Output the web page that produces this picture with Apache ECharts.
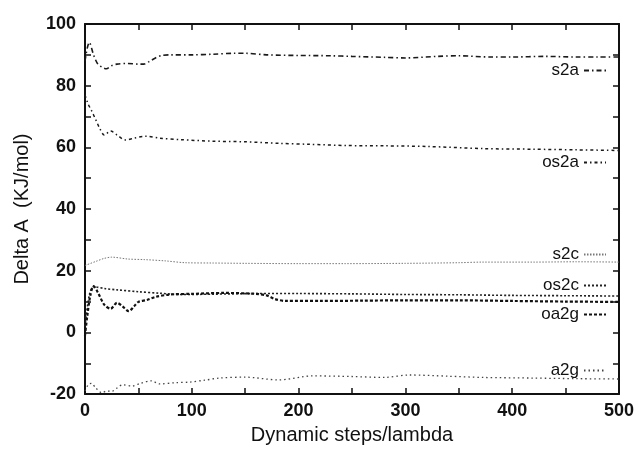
<!DOCTYPE html>
<html>
<head>
<meta charset="utf-8">
<script src="https://cdn.jsdelivr.net/npm/echarts@6/dist/echarts.min.js"></script>
<style>html,body{margin:0;padding:0;background:#fff}#c{width:639px;height:450px}</style>
</head>
<body>
<div id="c"></div>
<script>
const seriesNames = ['s2a','os2a','s2c','os2c','oa2g','a2g'];

const s2aX = [0,2,4,8,12,16,20,25,30,40,50,55,60,66,72,80,100,120,140,150,170,200,230,250,280,300,330,350,380,400,430,460,480,500];
const s2aY = [88,92,94,90,87,86,85.5,86.5,87,87.2,87,87,87.8,89,89.8,90,90,90.2,90.5,90.5,90,89.8,89.7,89.5,89.2,89,89.5,89.7,89.3,89.3,89.5,89.3,89.3,89.3];

const os2aX = [0,3,6,10,14,18,24,30,38,46,57,70,90,120,150,182,210,245,280,320,373,420,460,500];
const os2aY = [77,74,72,69,66,64,65.3,64,62.4,63,63.6,63,62.5,62,61.8,61.3,61,60.6,60.5,60.3,59.6,59.4,59.2,59];

const s2cX = [0,10,18,25,40,56,75,94,120,150,200,244,300,350,372,420,460,500];
const s2cY = [21.7,23,24,24.4,23.8,23.6,23.2,22.6,22.5,22.4,22.3,22.3,22.4,22.6,22.8,22.8,22.9,22.8];

const os2cX = [0,4,8,19,30,50,70,88,120,160,200,250,300,350,400,450,500];
const os2cY = [2,12,14.8,14.2,13.8,13.2,12.7,12.3,12.4,12.6,12.6,12.5,12.3,12.2,12,11.9,11.8];

const oa2gX = [0,2,5,8,12,18,24,30,35,41,46,50,58,66,80,100,130,160,170,178,188,220,260,300,350,400,450,500];
const oa2gY = [-1,5,12,15,13,9,7.7,9.6,8.5,6.9,8.5,9.9,10.5,11.5,12.3,12.5,12.8,12.5,12,10.8,10.2,10.2,10.3,10.4,10.4,10.2,10,9.9];

const a2gX = [0,3,6,10,16,20,25,30,35,44,52,62,70,85,98,112,126,150,181,213,250,280,304,340,373,420,460,500];
const a2gY = [-19,-17,-16.5,-18,-19.6,-19,-19.1,-18,-17,-17.4,-16.5,-15.7,-16.7,-16.3,-16.1,-15.5,-14.8,-14.5,-15.4,-14.1,-14.3,-14.6,-13.8,-14.2,-14.6,-14.8,-15,-15.1];

const xTickLabels = ['0','100','200','300','400','500'];
const yTickLabels = ['-20','0','20','40','60','80','100'];

const seriesX = [s2aX, os2aX, s2cX, os2cX, oa2gX, a2gX];
const seriesY = [s2aY, os2aY, s2cY, os2cY, oa2gY, a2gY];

const styles = [
  {color:'#1a1a1a', width:1.6, type:[5,3,1.5,3]},
  {color:'#1a1a1a', width:1.5, type:[3,3,1.5,3]},
  {color:'#777', width:1, type:[1.5,1.5]},
  {color:'#222', width:1.6, type:[2,2]},
  {color:'#111', width:2.2, type:[3,2]},
  {color:'#444', width:1.3, type:[1.5,3]}
];
const legendY = [70, 162, 254, 285, 314, 370];

const font = '"Liberation Sans", Arial, Helvetica, sans-serif';

const series = seriesNames.map((n,i)=>({
  name:n, type:'line', xAxisIndex:0, yAxisIndex:0, showSymbol:false, symbol:'none',
  smooth:0.3, animation:false,
  data: seriesX[i].map((x,j)=>[x, seriesY[i][j]]),
  lineStyle:{color:styles[i].color, width:styles[i].width, type:styles[i].type},
  itemStyle:{color:styles[i].color}
}));

const legends = seriesNames.map((n,i)=>({
  data:[n], right:32, top:legendY[i]-8, align:'right', padding:0,
  itemWidth:22, itemHeight:16,
  itemStyle:{opacity:0},
  textStyle:{fontFamily:font, fontSize:17, color:'#111'},
  selectedMode:false
}));

const baseAxis = {
  axisLine:{show:true, onZero:false, lineStyle:{color:'#111', width:2}},
  axisTick:{show:true, inside:true, length:6, lineStyle:{color:'#111', width:1.5}},
  minorTick:{show:true, splitNumber:2, length:6, lineStyle:{color:'#111', width:1.5}},
  splitLine:{show:false}
};

const chart = echarts.init(document.getElementById('c'), null, {renderer:'canvas'});
chart.setOption({
  animation:false,
  backgroundColor:'#fff',
  grid:{left:85, right:20, top:24, bottom:53},
  legend: legends,
  xAxis:[
    Object.assign({}, baseAxis, {
      type:'value', min:0, max:500, interval:100, position:'bottom',
      name:'Dynamic steps/lambda', nameLocation:'middle', nameGap:30,
      nameTextStyle:{fontFamily:font, fontSize:20, color:'#111'},
      axisLabel:{fontFamily:font, fontSize:18, fontWeight:'bold', color:'#111', margin:8,
        formatter:(v)=>xTickLabels[Math.round(v/100)]}
    }),
    Object.assign({}, baseAxis, {
      type:'value', min:0, max:500, interval:100, position:'top',
      axisLabel:{show:false}
    })
  ],
  yAxis:[
    Object.assign({}, baseAxis, {
      type:'value', min:-20, max:100, interval:20, position:'left',
      name:'Delta A  (KJ/mol)', nameLocation:'middle', nameGap:53, nameRotate:90,
      nameTextStyle:{fontFamily:font, fontSize:20, color:'#111'},
      axisLabel:{fontFamily:font, fontSize:18, fontWeight:'bold', color:'#111', margin:9,
        formatter:(v)=>yTickLabels[Math.round((v+20)/20)]}
    }),
    Object.assign({}, baseAxis, {
      type:'value', min:-20, max:100, interval:20, position:'right',
      axisLabel:{show:false}
    })
  ],
  series: series
});
</script>
</body>
</html>
